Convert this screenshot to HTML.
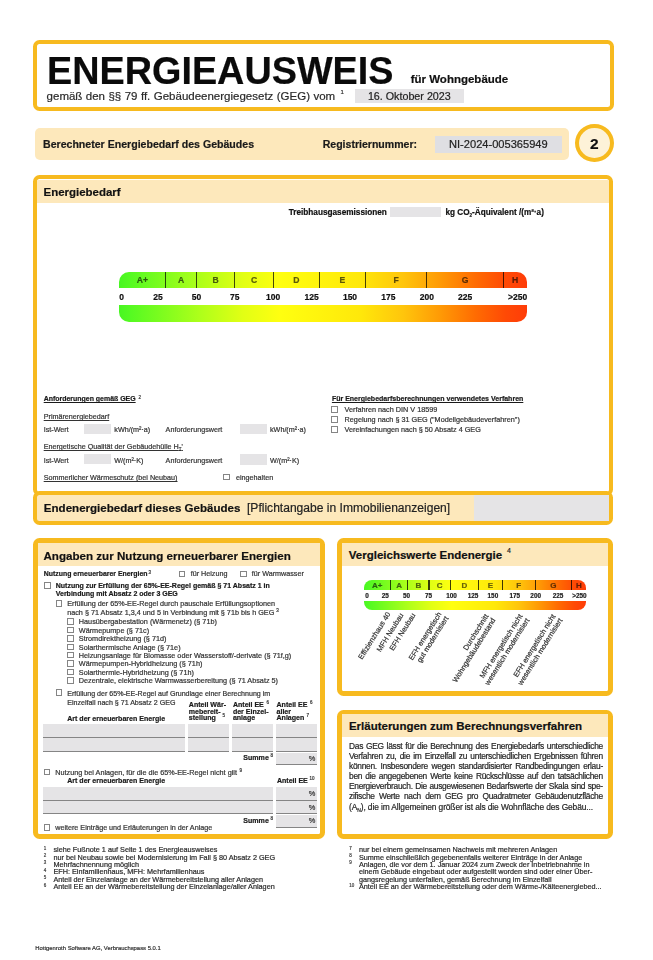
<!DOCTYPE html>
<html><head><meta charset="utf-8"><style>
html,body{margin:0;padding:0;background:#fff;width:653px;height:960px;overflow:hidden}
body{position:relative;font-family:"Liberation Sans",sans-serif}
.t{position:absolute;white-space:pre;line-height:1;-webkit-text-stroke:0.2px currentColor}
.r{position:absolute}
</style></head><body>
<div class="r" style="left:32.70px;top:39.70px;width:580.90px;height:71.50px;box-sizing:border-box;border:4.9px solid #f7ba1f;border-radius:6.5px;background:#fff"></div>
<div class="t" style="left:47.20px;top:51.00px;font-size:39px;font-weight:bold;color:#0a0a0a;transform:scaleX(0.969);transform-origin:0 0">ENERGIEAUSWEIS</div>
<div class="t" style="left:410.70px;top:74.00px;font-size:11.5px;font-weight:bold;color:#111;">für Wohngebäude</div>
<div class="t" style="left:46.60px;top:91.00px;font-size:11.5px;font-weight:normal;color:#2a2a2a;word-spacing:0.25px">gemäß den §§ 79 ff. Gebäudeenergiegesetz (GEG) vom</div>
<div class="t" style="left:340.50px;top:89.00px;font-size:6px;font-weight:normal;color:#333;">1</div>
<div class="r" style="left:354.50px;top:88.60px;width:109.10px;height:14.70px;background:#e5e4e6"></div>
<div class="t" style="left:367.90px;top:91.00px;font-size:10.72px;font-weight:normal;color:#222;">16. Oktober 2023</div>
<div class="r" style="left:35.40px;top:127.60px;width:533.60px;height:32.60px;background:#fde8bb;border-radius:5px"></div>
<div class="t" style="left:43.00px;top:139.00px;font-size:10.59px;font-weight:bold;color:#1a1a1a;">Berechneter Energiebedarf des Gebäudes</div>
<div class="t" style="left:322.70px;top:139.00px;font-size:10.55px;font-weight:bold;color:#1a1a1a;">Registriernummer:</div>
<div class="r" style="left:434.70px;top:136.20px;width:127.20px;height:17.00px;background:#dfdfe3"></div>
<div class="t" style="left:449.00px;top:139.00px;font-size:11.1px;font-weight:normal;color:#222;">NI-2024-005365949</div>
<div class="r" style="left:575.0px;top:124.4px;width:38.6px;height:38.0px;box-sizing:border-box;border:4.8px solid #f7ba1f;border-radius:50%;background:#fdf2d8"></div>
<div class="t" style="left:494.30px;width:200px;text-align:center;top:136.00px;font-size:15.5px;font-weight:bold;color:#111;">2</div>
<div class="r" style="left:32.60px;top:175.30px;width:580.60px;height:320.30px;box-sizing:border-box;border:4.8px solid #f7ba1f;border-radius:6.5px;background:#fff"></div>
<div class="r" style="left:37.30px;top:179.60px;width:571.40px;height:23.20px;background:#fde8bb"></div>
<div class="t" style="left:43.50px;top:187.00px;font-size:11.47px;font-weight:bold;color:#111;">Energiebedarf</div>
<div class="t" style="left:288.70px;top:209.00px;font-size:8.22px;font-weight:bold;color:#111;">Treibhausgasemissionen</div>
<div class="r" style="left:390.40px;top:207.00px;width:51.00px;height:9.90px;background:#e5e4e6"></div>
<div class="t" style="left:445.40px;top:209.00px;font-size:8.2px;font-weight:bold;color:#111;">kg CO<span style="font-size:4.5px;vertical-align:-2px">2</span>-Äquivalent /(m²·a)</div>
<div class="r" style="left:119.20px;top:271.60px;width:407.40px;height:16.70px;background:linear-gradient(90deg,#48f622 0%,#55fa22 2.7%,#aeff1a 19.8%,#e2ff14 30.4%,#ffff10 39.5%,#ffe80a 59.1%,#ffc50c 69.7%,#ff9a05 78.7%,#ff6c02 87.3%,#ff4a05 94.7%,#ff3c08 100%);border-radius:10px 10px 0 0"></div>
<div class="r" style="left:119.20px;top:304.90px;width:407.40px;height:17.10px;background:linear-gradient(90deg,#48f622 0%,#55fa22 2.7%,#aeff1a 19.8%,#e2ff14 30.4%,#ffff10 39.5%,#ffe80a 59.1%,#ffc50c 69.7%,#ff9a05 78.7%,#ff6c02 87.3%,#ff4a05 94.7%,#ff3c08 100%);border-radius:0 0 10px 10px"></div>
<div class="r" style="left:165.18px;top:271.60px;width:1.00px;height:16.70px;background:#484848;mix-blend-mode:multiply"></div>
<div class="r" style="left:195.90px;top:271.60px;width:1.00px;height:16.70px;background:#484848;mix-blend-mode:multiply"></div>
<div class="r" style="left:234.30px;top:271.60px;width:1.00px;height:16.70px;background:#484848;mix-blend-mode:multiply"></div>
<div class="r" style="left:272.70px;top:271.60px;width:1.00px;height:16.70px;background:#484848;mix-blend-mode:multiply"></div>
<div class="r" style="left:318.78px;top:271.60px;width:1.00px;height:16.70px;background:#484848;mix-blend-mode:multiply"></div>
<div class="r" style="left:364.86px;top:271.60px;width:1.00px;height:16.70px;background:#484848;mix-blend-mode:multiply"></div>
<div class="r" style="left:426.30px;top:271.60px;width:1.00px;height:16.70px;background:#484848;mix-blend-mode:multiply"></div>
<div class="r" style="left:503.10px;top:271.60px;width:1.00px;height:16.70px;background:#484848;mix-blend-mode:multiply"></div>
<div class="t" style="left:42.44px;width:200px;text-align:center;top:276.00px;font-size:8.6px;font-weight:bold;color:#5c5c5c;mix-blend-mode:multiply">A+</div>
<div class="t" style="left:81.04px;width:200px;text-align:center;top:276.00px;font-size:8.6px;font-weight:bold;color:#5c5c5c;mix-blend-mode:multiply">A</div>
<div class="t" style="left:115.60px;width:200px;text-align:center;top:276.00px;font-size:8.6px;font-weight:bold;color:#5c5c5c;mix-blend-mode:multiply">B</div>
<div class="t" style="left:154.00px;width:200px;text-align:center;top:276.00px;font-size:8.6px;font-weight:bold;color:#5c5c5c;mix-blend-mode:multiply">C</div>
<div class="t" style="left:196.24px;width:200px;text-align:center;top:276.00px;font-size:8.6px;font-weight:bold;color:#5c5c5c;mix-blend-mode:multiply">D</div>
<div class="t" style="left:242.32px;width:200px;text-align:center;top:276.00px;font-size:8.6px;font-weight:bold;color:#5c5c5c;mix-blend-mode:multiply">E</div>
<div class="t" style="left:296.08px;width:200px;text-align:center;top:276.00px;font-size:8.6px;font-weight:bold;color:#5c5c5c;mix-blend-mode:multiply">F</div>
<div class="t" style="left:365.20px;width:200px;text-align:center;top:276.00px;font-size:8.6px;font-weight:bold;color:#5c5c5c;mix-blend-mode:multiply">G</div>
<div class="t" style="left:415.10px;width:200px;text-align:center;top:276.00px;font-size:8.6px;font-weight:bold;color:#5c5c5c;mix-blend-mode:multiply">H</div>
<div class="t" style="left:119.30px;top:293.00px;font-size:8.5px;font-weight:bold;color:#111;">0</div>
<div class="t" style="left:58.00px;width:200px;text-align:center;top:293.00px;font-size:8.5px;font-weight:bold;color:#111;">25</div>
<div class="t" style="left:96.40px;width:200px;text-align:center;top:293.00px;font-size:8.5px;font-weight:bold;color:#111;">50</div>
<div class="t" style="left:134.80px;width:200px;text-align:center;top:293.00px;font-size:8.5px;font-weight:bold;color:#111;">75</div>
<div class="t" style="left:173.20px;width:200px;text-align:center;top:293.00px;font-size:8.5px;font-weight:bold;color:#111;">100</div>
<div class="t" style="left:211.60px;width:200px;text-align:center;top:293.00px;font-size:8.5px;font-weight:bold;color:#111;">125</div>
<div class="t" style="left:250.00px;width:200px;text-align:center;top:293.00px;font-size:8.5px;font-weight:bold;color:#111;">150</div>
<div class="t" style="left:288.40px;width:200px;text-align:center;top:293.00px;font-size:8.5px;font-weight:bold;color:#111;">175</div>
<div class="t" style="left:326.80px;width:200px;text-align:center;top:293.00px;font-size:8.5px;font-weight:bold;color:#111;">200</div>
<div class="t" style="left:365.20px;width:200px;text-align:center;top:293.00px;font-size:8.5px;font-weight:bold;color:#111;">225</div>
<div class="t" style="right:125.80px;top:293.00px;font-size:8.5px;font-weight:bold;color:#111;">&gt;250</div>
<div class="t" style="left:43.70px;top:396.00px;font-size:6.96px;font-weight:bold;color:#1a1a1a;text-decoration:underline">Anforderungen gemäß GEG</div>
<div class="t" style="left:138.50px;top:396.00px;font-size:4.5px;font-weight:normal;color:#333;">2</div>
<div class="t" style="left:43.70px;top:413.00px;font-size:7.2px;font-weight:normal;color:#333;text-decoration:underline">Primärenergiebedarf</div>
<div class="t" style="left:43.70px;top:426.00px;font-size:7.2px;font-weight:normal;color:#333;">Ist-Wert</div>
<div class="r" style="left:84.00px;top:423.60px;width:27.10px;height:10.40px;background:#e5e4e6"></div>
<div class="t" style="left:114.30px;top:426.00px;font-size:7.2px;font-weight:normal;color:#333;">kWh/(m²·a)</div>
<div class="t" style="left:165.60px;top:426.00px;font-size:7.2px;font-weight:normal;color:#333;">Anforderungswert</div>
<div class="r" style="left:239.80px;top:423.80px;width:27.40px;height:10.60px;background:#e5e4e6"></div>
<div class="t" style="left:270.00px;top:426.00px;font-size:7.2px;font-weight:normal;color:#333;">kWh/(m²·a)</div>
<div class="t" style="left:43.70px;top:443.00px;font-size:7.2px;font-weight:normal;color:#333;text-decoration:underline">Energetische Qualität der Gebäudehülle H<span style="font-size:4.5px;vertical-align:-1.5px">T</span>'</div>
<div class="t" style="left:43.70px;top:457.00px;font-size:7.2px;font-weight:normal;color:#333;">Ist-Wert</div>
<div class="r" style="left:84.00px;top:454.40px;width:27.10px;height:9.90px;background:#e5e4e6"></div>
<div class="t" style="left:114.30px;top:457.00px;font-size:7.2px;font-weight:normal;color:#333;">W/(m²·K)</div>
<div class="t" style="left:165.60px;top:457.00px;font-size:7.2px;font-weight:normal;color:#333;">Anforderungswert</div>
<div class="r" style="left:239.80px;top:454.30px;width:27.40px;height:10.30px;background:#e5e4e6"></div>
<div class="t" style="left:270.00px;top:457.00px;font-size:7.2px;font-weight:normal;color:#333;">W/(m²·K)</div>
<div class="t" style="left:43.70px;top:474.00px;font-size:7.2px;font-weight:normal;color:#333;text-decoration:underline">Sommerlicher Wärmeschutz (bei Neubau)</div>
<div class="r" style="left:223.00px;top:473.50px;width:6.50px;height:6.50px;box-sizing:border-box;border:0.9px solid #858585;background:#fff"></div>
<div class="t" style="left:236.00px;top:474.00px;font-size:7.2px;font-weight:normal;color:#333;">eingehalten</div>
<div class="t" style="left:331.90px;top:395.00px;font-size:7.03px;font-weight:bold;color:#1a1a1a;text-decoration:underline">Für Energiebedarfsberechnungen verwendetes Verfahren</div>
<div class="r" style="left:331.40px;top:406.00px;width:6.50px;height:6.50px;box-sizing:border-box;border:0.9px solid #858585;background:#fff"></div>
<div class="t" style="left:344.60px;top:406.00px;font-size:7.25px;font-weight:normal;color:#333;">Verfahren nach DIN V 18599</div>
<div class="r" style="left:331.40px;top:416.30px;width:6.50px;height:6.50px;box-sizing:border-box;border:0.9px solid #858585;background:#fff"></div>
<div class="t" style="left:344.60px;top:416.00px;font-size:7.25px;font-weight:normal;color:#333;">Regelung nach § 31 GEG ("Modellgebäudeverfahren")</div>
<div class="r" style="left:331.40px;top:426.30px;width:6.50px;height:6.50px;box-sizing:border-box;border:0.9px solid #858585;background:#fff"></div>
<div class="t" style="left:344.60px;top:426.00px;font-size:7.25px;font-weight:normal;color:#333;">Vereinfachungen nach § 50 Absatz 4 GEG</div>
<div class="r" style="left:32.60px;top:490.80px;width:580.60px;height:34.50px;box-sizing:border-box;border:4.8px solid #f7ba1f;border-radius:6.5px;background:#fde8bb"></div>
<div class="r" style="left:473.80px;top:495.40px;width:134.80px;height:25.20px;background:#e5e4e6"></div>
<div class="t" style="left:43.80px;top:503.00px;font-size:11.57px;font-weight:bold;color:#111;">Endenergiebedarf dieses Gebäudes</div>
<div class="t" style="left:247.00px;top:502.00px;font-size:12.07px;font-weight:normal;color:#222;">[Pflichtangabe in Immobilienanzeigen]</div>
<div class="r" style="left:32.80px;top:538.00px;width:292.60px;height:301.20px;box-sizing:border-box;border:5px solid #f7ba1f;border-radius:6.5px;background:#fff"></div>
<div class="r" style="left:37.60px;top:542.60px;width:282.80px;height:23.40px;background:#fde8bb"></div>
<div class="t" style="left:43.50px;top:550.00px;font-size:11.6px;font-weight:bold;color:#111;">Angaben zur Nutzung erneuerbarer Energien</div>
<div class="t" style="left:43.70px;top:571.00px;font-size:6.93px;font-weight:bold;color:#1a1a1a;">Nutzung erneuerbarer Energien</div>
<div class="t" style="left:148.50px;top:571.00px;font-size:4.5px;font-weight:normal;color:#333;">3</div>
<div class="r" style="left:178.90px;top:570.50px;width:6.50px;height:6.50px;box-sizing:border-box;border:0.9px solid #858585;background:#fff"></div>
<div class="t" style="left:190.70px;top:570.00px;font-size:7.2px;font-weight:normal;color:#333;">für Heizung</div>
<div class="r" style="left:240.00px;top:570.50px;width:6.50px;height:6.50px;box-sizing:border-box;border:0.9px solid #858585;background:#fff"></div>
<div class="t" style="left:251.80px;top:570.00px;font-size:7.2px;font-weight:normal;color:#333;">für Warmwasser</div>
<div class="r" style="left:44.20px;top:582.20px;width:6.50px;height:6.50px;box-sizing:border-box;border:0.9px solid #858585;background:#fff"></div>
<div class="t" style="left:55.70px;top:582.00px;font-size:7.02px;font-weight:bold;color:#1a1a1a;">Nutzung zur Erfüllung der 65%-EE-Regel gemäß § 71 Absatz 1 in</div>
<div class="t" style="left:55.70px;top:590.00px;font-size:7.02px;font-weight:bold;color:#1a1a1a;">Verbindung mit Absatz 2 oder 3 GEG</div>
<div class="r" style="left:55.50px;top:600.40px;width:6.50px;height:6.50px;box-sizing:border-box;border:0.9px solid #858585;background:#fff"></div>
<div class="t" style="left:67.20px;top:600.00px;font-size:7.24px;font-weight:normal;color:#333;">Erfüllung der 65%-EE-Regel durch pauschale Erfüllungsoptionen</div>
<div class="t" style="left:67.20px;top:609.00px;font-size:7.24px;font-weight:normal;color:#333;">nach § 71 Absatz 1,3,4 und 5 in Verbindung mit § 71b bis h GEG</div>
<div class="t" style="left:276.30px;top:609.00px;font-size:4.5px;font-weight:normal;color:#333;">3</div>
<div class="r" style="left:67.20px;top:618.20px;width:6.50px;height:6.50px;box-sizing:border-box;border:0.9px solid #858585;background:#fff"></div>
<div class="t" style="left:78.80px;top:618.00px;font-size:7.28px;font-weight:normal;color:#333;">Hausübergabestation (Wärmenetz) (§ 71b)</div>
<div class="r" style="left:67.20px;top:626.64px;width:6.50px;height:6.50px;box-sizing:border-box;border:0.9px solid #858585;background:#fff"></div>
<div class="t" style="left:78.80px;top:627.00px;font-size:7.28px;font-weight:normal;color:#333;">Wärmepumpe (§ 71c)</div>
<div class="r" style="left:67.20px;top:635.08px;width:6.50px;height:6.50px;box-sizing:border-box;border:0.9px solid #858585;background:#fff"></div>
<div class="t" style="left:78.80px;top:635.00px;font-size:7.28px;font-weight:normal;color:#333;">Stromdirektheizung (§ 71d)</div>
<div class="r" style="left:67.20px;top:643.52px;width:6.50px;height:6.50px;box-sizing:border-box;border:0.9px solid #858585;background:#fff"></div>
<div class="t" style="left:78.80px;top:644.00px;font-size:7.28px;font-weight:normal;color:#333;">Solarthermische Anlage (§ 71e)</div>
<div class="r" style="left:67.20px;top:651.96px;width:6.50px;height:6.50px;box-sizing:border-box;border:0.9px solid #858585;background:#fff"></div>
<div class="t" style="left:78.80px;top:652.00px;font-size:7.28px;font-weight:normal;color:#333;">Heizungsanlage für Biomasse oder Wasserstoff/-derivate (§ 71f,g)</div>
<div class="r" style="left:67.20px;top:660.40px;width:6.50px;height:6.50px;box-sizing:border-box;border:0.9px solid #858585;background:#fff"></div>
<div class="t" style="left:78.80px;top:660.00px;font-size:7.28px;font-weight:normal;color:#333;">Wärmepumpen-Hybridheizung (§ 71h)</div>
<div class="r" style="left:67.20px;top:668.84px;width:6.50px;height:6.50px;box-sizing:border-box;border:0.9px solid #858585;background:#fff"></div>
<div class="t" style="left:78.80px;top:669.00px;font-size:7.28px;font-weight:normal;color:#333;">Solarthermie-Hybridheizung (§ 71h)</div>
<div class="r" style="left:67.20px;top:677.28px;width:6.50px;height:6.50px;box-sizing:border-box;border:0.9px solid #858585;background:#fff"></div>
<div class="t" style="left:78.80px;top:677.00px;font-size:7.28px;font-weight:normal;color:#333;">Dezentrale, elektrische Warmwasserbereitung (§ 71 Absatz 5)</div>
<div class="r" style="left:55.50px;top:689.30px;width:6.50px;height:6.50px;box-sizing:border-box;border:0.9px solid #858585;background:#fff"></div>
<div class="t" style="left:67.20px;top:691.00px;font-size:7.08px;font-weight:normal;color:#333;">Erfüllung der 65%-EE-Regel auf Grundlage einer Berechnung im</div>
<div class="t" style="left:67.20px;top:700.00px;font-size:7.08px;font-weight:normal;color:#333;">Einzelfall nach § 71 Absatz 2 GEG</div>
<div class="t" style="left:67.20px;top:715.00px;font-size:7.05px;font-weight:bold;color:#1a1a1a;">Art der erneuerbaren Energie</div>
<div class="t" style="left:188.80px;top:701.00px;font-size:7.05px;font-weight:bold;color:#1a1a1a;">Anteil Wär-</div>
<div class="t" style="left:188.80px;top:708.00px;font-size:7.05px;font-weight:bold;color:#1a1a1a;">mebereit-</div>
<div class="t" style="left:188.80px;top:714.00px;font-size:7.05px;font-weight:bold;color:#1a1a1a;">stellung</div>
<div class="t" style="left:222.50px;top:714.00px;font-size:4.5px;font-weight:normal;color:#333;">5</div>
<div class="t" style="left:232.90px;top:701.00px;font-size:7.05px;font-weight:bold;color:#1a1a1a;">Anteil EE</div>
<div class="t" style="left:266.50px;top:701.00px;font-size:4.5px;font-weight:normal;color:#333;">6</div>
<div class="t" style="left:232.90px;top:708.00px;font-size:7.05px;font-weight:bold;color:#1a1a1a;">der Einzel-</div>
<div class="t" style="left:232.90px;top:714.00px;font-size:7.05px;font-weight:bold;color:#1a1a1a;">anlage</div>
<div class="t" style="left:276.50px;top:701.00px;font-size:7.05px;font-weight:bold;color:#1a1a1a;">Anteil EE</div>
<div class="t" style="left:310.00px;top:701.00px;font-size:4.5px;font-weight:normal;color:#333;">6</div>
<div class="t" style="left:276.50px;top:708.00px;font-size:7.05px;font-weight:bold;color:#1a1a1a;">aller</div>
<div class="t" style="left:276.50px;top:714.00px;font-size:7.05px;font-weight:bold;color:#1a1a1a;">Anlagen</div>
<div class="t" style="left:306.50px;top:714.00px;font-size:4.5px;font-weight:normal;color:#333;">7</div>
<div class="r" style="left:43.00px;top:724.40px;width:142.30px;height:13.80px;background:#e5e4e6;border-bottom:1px solid #858585;box-sizing:border-box"></div>
<div class="r" style="left:188.30px;top:724.40px;width:40.70px;height:13.80px;background:#e5e4e6;border-bottom:1px solid #858585;box-sizing:border-box"></div>
<div class="r" style="left:232.40px;top:724.40px;width:40.90px;height:13.80px;background:#e5e4e6;border-bottom:1px solid #858585;box-sizing:border-box"></div>
<div class="r" style="left:276.10px;top:724.40px;width:40.90px;height:13.80px;background:#e5e4e6;border-bottom:1px solid #858585;box-sizing:border-box"></div>
<div class="r" style="left:43.00px;top:738.40px;width:142.30px;height:13.40px;background:#e5e4e6;border-bottom:1px solid #858585;box-sizing:border-box"></div>
<div class="r" style="left:188.30px;top:738.40px;width:40.70px;height:13.40px;background:#e5e4e6;border-bottom:1px solid #858585;box-sizing:border-box"></div>
<div class="r" style="left:232.40px;top:738.40px;width:40.90px;height:13.40px;background:#e5e4e6;border-bottom:1px solid #858585;box-sizing:border-box"></div>
<div class="r" style="left:276.10px;top:738.40px;width:40.90px;height:13.40px;background:#e5e4e6;border-bottom:1px solid #858585;box-sizing:border-box"></div>
<div class="r" style="left:276.10px;top:753.20px;width:40.90px;height:12.30px;background:#e5e4e6;border-bottom:1px solid #858585;box-sizing:border-box"></div>
<div class="t" style="right:384.20px;top:754.00px;font-size:7.05px;font-weight:bold;color:#1a1a1a;">Summe</div>
<div class="t" style="left:270.60px;top:754.00px;font-size:4.5px;font-weight:normal;color:#333;">8</div>
<div class="t" style="right:337.60px;top:755.00px;font-size:7.4px;font-weight:normal;color:#333;">%</div>
<div class="r" style="left:43.70px;top:768.60px;width:6.50px;height:6.50px;box-sizing:border-box;border:0.9px solid #858585;background:#fff"></div>
<div class="t" style="left:55.20px;top:769.00px;font-size:7.28px;font-weight:normal;color:#333;">Nutzung bei Anlagen, für die die 65%-EE-Regel nicht gilt</div>
<div class="t" style="left:239.60px;top:769.00px;font-size:4.5px;font-weight:normal;color:#333;">9</div>
<div class="t" style="left:67.20px;top:777.00px;font-size:7.05px;font-weight:bold;color:#1a1a1a;">Art der erneuerbaren Energie</div>
<div class="t" style="left:276.90px;top:777.00px;font-size:7.05px;font-weight:bold;color:#1a1a1a;">Anteil EE</div>
<div class="t" style="left:309.50px;top:777.00px;font-size:4.5px;font-weight:normal;color:#333;">10</div>
<div class="r" style="left:43.00px;top:786.80px;width:230.40px;height:13.80px;background:#e5e4e6;border-bottom:1px solid #858585;box-sizing:border-box"></div>
<div class="r" style="left:276.40px;top:786.80px;width:40.60px;height:13.80px;background:#e5e4e6;border-bottom:1px solid #858585;box-sizing:border-box"></div>
<div class="t" style="right:337.60px;top:790.00px;font-size:7.4px;font-weight:normal;color:#333;">%</div>
<div class="r" style="left:43.00px;top:800.80px;width:230.40px;height:13.20px;background:#e5e4e6;border-bottom:1px solid #858585;box-sizing:border-box"></div>
<div class="r" style="left:276.40px;top:800.80px;width:40.60px;height:13.20px;background:#e5e4e6;border-bottom:1px solid #858585;box-sizing:border-box"></div>
<div class="t" style="right:337.60px;top:804.00px;font-size:7.4px;font-weight:normal;color:#333;">%</div>
<div class="r" style="left:276.40px;top:815.30px;width:40.60px;height:12.50px;background:#e5e4e6;border-bottom:1px solid #858585;box-sizing:border-box"></div>
<div class="t" style="right:337.60px;top:817.00px;font-size:7.4px;font-weight:normal;color:#333;">%</div>
<div class="t" style="right:384.20px;top:817.00px;font-size:7.05px;font-weight:bold;color:#1a1a1a;">Summe</div>
<div class="t" style="left:270.60px;top:817.00px;font-size:4.5px;font-weight:normal;color:#333;">8</div>
<div class="r" style="left:43.70px;top:824.40px;width:6.50px;height:6.50px;box-sizing:border-box;border:0.9px solid #858585;background:#fff"></div>
<div class="t" style="left:55.20px;top:824.00px;font-size:7.2px;font-weight:normal;color:#333;">weitere Einträge und Erläuterungen in der Anlage</div>
<div class="r" style="left:337.40px;top:538.30px;width:275.60px;height:157.30px;box-sizing:border-box;border:5px solid #f7ba1f;border-radius:6.5px;background:#fff"></div>
<div class="r" style="left:342.20px;top:543.10px;width:266.00px;height:22.90px;background:#fde8bb"></div>
<div class="t" style="left:348.80px;top:550.00px;font-size:11.5px;font-weight:bold;color:#111;">Vergleichswerte Endenergie</div>
<div class="t" style="left:507.00px;top:547.00px;font-size:7px;font-weight:normal;color:#222;">4</div>
<div class="r" style="left:337.40px;top:709.60px;width:275.60px;height:129.60px;box-sizing:border-box;border:5px solid #f7ba1f;border-radius:6.5px;background:#fff"></div>
<div class="r" style="left:342.20px;top:714.30px;width:266.00px;height:22.70px;background:#fde8bb"></div>
<div class="t" style="left:348.90px;top:721.00px;font-size:11.5px;font-weight:bold;color:#111;">Erläuterungen zum Berechnungsverfahren</div>
<div class="r" style="left:364.20px;top:579.80px;width:222.30px;height:10.00px;background:linear-gradient(90deg,#48f622 0%,#55fa22 2.7%,#aeff1a 19.8%,#e2ff14 30.4%,#ffff10 39.5%,#ffe80a 59.1%,#ffc50c 69.7%,#ff9a05 78.7%,#ff6c02 87.3%,#ff4a05 94.7%,#ff3c08 100%);border-radius:8px 8px 0 0"></div>
<div class="r" style="left:364.20px;top:601.00px;width:222.30px;height:8.80px;background:linear-gradient(90deg,#48f622 0%,#55fa22 2.7%,#aeff1a 19.8%,#e2ff14 30.4%,#ffff10 39.5%,#ffe80a 59.1%,#ffc50c 69.7%,#ff9a05 78.7%,#ff6c02 87.3%,#ff4a05 94.7%,#ff3c08 100%);border-radius:0 0 8px 8px"></div>
<div class="r" style="left:389.60px;top:579.80px;width:1.40px;height:10.00px;background:#3c3c3c;mix-blend-mode:multiply"></div>
<div class="r" style="left:407.10px;top:579.80px;width:1.40px;height:10.00px;background:#3c3c3c;mix-blend-mode:multiply"></div>
<div class="r" style="left:428.20px;top:579.80px;width:1.40px;height:10.00px;background:#3c3c3c;mix-blend-mode:multiply"></div>
<div class="r" style="left:449.90px;top:579.80px;width:1.40px;height:10.00px;background:#3c3c3c;mix-blend-mode:multiply"></div>
<div class="r" style="left:477.70px;top:579.80px;width:1.40px;height:10.00px;background:#3c3c3c;mix-blend-mode:multiply"></div>
<div class="r" style="left:501.60px;top:579.80px;width:1.40px;height:10.00px;background:#3c3c3c;mix-blend-mode:multiply"></div>
<div class="r" style="left:534.60px;top:579.80px;width:1.40px;height:10.00px;background:#3c3c3c;mix-blend-mode:multiply"></div>
<div class="r" style="left:570.70px;top:579.80px;width:1.40px;height:10.00px;background:#3c3c3c;mix-blend-mode:multiply"></div>
<div class="t" style="left:277.25px;width:200px;text-align:center;top:582.00px;font-size:8px;font-weight:bold;color:#666;mix-blend-mode:multiply">A+</div>
<div class="t" style="left:299.05px;width:200px;text-align:center;top:582.00px;font-size:8px;font-weight:bold;color:#666;mix-blend-mode:multiply">A</div>
<div class="t" style="left:318.35px;width:200px;text-align:center;top:582.00px;font-size:8px;font-weight:bold;color:#666;mix-blend-mode:multiply">B</div>
<div class="t" style="left:339.75px;width:200px;text-align:center;top:582.00px;font-size:8px;font-weight:bold;color:#666;mix-blend-mode:multiply">C</div>
<div class="t" style="left:364.50px;width:200px;text-align:center;top:582.00px;font-size:8px;font-weight:bold;color:#666;mix-blend-mode:multiply">D</div>
<div class="t" style="left:390.35px;width:200px;text-align:center;top:582.00px;font-size:8px;font-weight:bold;color:#666;mix-blend-mode:multiply">E</div>
<div class="t" style="left:418.80px;width:200px;text-align:center;top:582.00px;font-size:8px;font-weight:bold;color:#666;mix-blend-mode:multiply">F</div>
<div class="t" style="left:453.35px;width:200px;text-align:center;top:582.00px;font-size:8px;font-weight:bold;color:#666;mix-blend-mode:multiply">G</div>
<div class="t" style="left:478.95px;width:200px;text-align:center;top:582.00px;font-size:8px;font-weight:bold;color:#666;mix-blend-mode:multiply">H</div>
<div class="t" style="left:267.00px;width:200px;text-align:center;top:593.00px;font-size:6.4px;font-weight:bold;color:#222;">0</div>
<div class="t" style="left:285.30px;width:200px;text-align:center;top:593.00px;font-size:6.4px;font-weight:bold;color:#222;">25</div>
<div class="t" style="left:306.50px;width:200px;text-align:center;top:593.00px;font-size:6.4px;font-weight:bold;color:#222;">50</div>
<div class="t" style="left:328.50px;width:200px;text-align:center;top:593.00px;font-size:6.4px;font-weight:bold;color:#222;">75</div>
<div class="t" style="left:351.50px;width:200px;text-align:center;top:593.00px;font-size:6.4px;font-weight:bold;color:#222;">100</div>
<div class="t" style="left:373.00px;width:200px;text-align:center;top:593.00px;font-size:6.4px;font-weight:bold;color:#222;">125</div>
<div class="t" style="left:392.90px;width:200px;text-align:center;top:593.00px;font-size:6.4px;font-weight:bold;color:#222;">150</div>
<div class="t" style="left:414.80px;width:200px;text-align:center;top:593.00px;font-size:6.4px;font-weight:bold;color:#222;">175</div>
<div class="t" style="left:435.70px;width:200px;text-align:center;top:593.00px;font-size:6.4px;font-weight:bold;color:#222;">200</div>
<div class="t" style="left:458.00px;width:200px;text-align:center;top:593.00px;font-size:6.4px;font-weight:bold;color:#222;">225</div>
<div class="t" style="right:66.40px;top:593.00px;font-size:6.4px;font-weight:bold;color:#222;">&gt;250</div>
<div class="t" style="left:90.80px;top:608.24px;width:300px;text-align:right;font-size:7.4px;color:#333;transform-origin:100% 84.65%;transform:rotate(-58deg)">Effizienzhaus 40</div>
<div class="t" style="left:104.20px;top:608.74px;width:300px;text-align:right;font-size:7.4px;color:#333;transform-origin:100% 84.65%;transform:rotate(-58deg)">MFH Neubau</div>
<div class="t" style="left:116.30px;top:608.74px;width:300px;text-align:right;font-size:7.4px;color:#333;transform-origin:100% 84.65%;transform:rotate(-58deg)">EFH Neubau</div>
<div class="t" style="left:141.80px;top:608.24px;width:300px;text-align:right;font-size:7.4px;color:#333;transform-origin:100% 84.65%;transform:rotate(-58deg)">EFH energetisch</div>
<div class="t" style="left:148.50px;top:612.42px;width:300px;text-align:right;font-size:7.4px;color:#333;transform-origin:100% 84.65%;transform:rotate(-58deg)">gut modernisiert</div>
<div class="t" style="left:189.00px;top:609.74px;width:300px;text-align:right;font-size:7.4px;color:#333;transform-origin:100% 84.65%;transform:rotate(-58deg)">Durchschnitt</div>
<div class="t" style="left:195.70px;top:613.92px;width:300px;text-align:right;font-size:7.4px;color:#333;transform-origin:100% 84.65%;transform:rotate(-58deg)">Wohngebäudebestand</div>
<div class="t" style="left:223.00px;top:609.74px;width:300px;text-align:right;font-size:7.4px;color:#333;transform-origin:100% 84.65%;transform:rotate(-58deg)">MFH energetisch nicht</div>
<div class="t" style="left:229.70px;top:613.92px;width:300px;text-align:right;font-size:7.4px;color:#333;transform-origin:100% 84.65%;transform:rotate(-58deg)">wesentlich modernisiert</div>
<div class="t" style="left:256.00px;top:609.74px;width:300px;text-align:right;font-size:7.4px;color:#333;transform-origin:100% 84.65%;transform:rotate(-58deg)">EFH energetisch nicht</div>
<div class="t" style="left:262.70px;top:613.92px;width:300px;text-align:right;font-size:7.4px;color:#333;transform-origin:100% 84.65%;transform:rotate(-58deg)">wesentlich modernisiert</div>
<div class="t" style="left:349px;top:742.00px;width:253.9px;white-space:normal;text-align:justify;text-align-last:justify;font-size:8.4px;letter-spacing:-0.28px;color:#262626">Das GEG lässt für die Berechnung des Energiebedarfs unterschiedliche</div>
<div class="t" style="left:349px;top:752.00px;width:253.9px;white-space:normal;text-align:justify;text-align-last:justify;font-size:8.4px;letter-spacing:-0.28px;color:#262626">Verfahren zu, die im Einzelfall zu unterschiedlichen Ergebnissen führen</div>
<div class="t" style="left:349px;top:762.00px;width:253.9px;white-space:normal;text-align:justify;text-align-last:justify;font-size:8.4px;letter-spacing:-0.28px;color:#262626">können. Insbesondere wegen standardisierter Randbedingungen erlau-</div>
<div class="t" style="left:349px;top:772.00px;width:253.9px;white-space:normal;text-align:justify;text-align-last:justify;font-size:8.4px;letter-spacing:-0.28px;color:#262626">ben die angegebenen Werte keine Rückschlüsse auf den tatsächlichen</div>
<div class="t" style="left:349px;top:782.00px;width:253.9px;white-space:normal;text-align:justify;text-align-last:justify;font-size:8.4px;letter-spacing:-0.28px;color:#262626">Energieverbrauch. Die ausgewiesenen Bedarfswerte der Skala sind spe-</div>
<div class="t" style="left:349px;top:792.00px;width:253.9px;white-space:normal;text-align:justify;text-align-last:justify;font-size:8.4px;letter-spacing:-0.28px;color:#262626">zifische Werte nach dem GEG pro Quadratmeter Gebäudenutzfläche</div>
<div class="t" style="left:349.00px;top:803.00px;font-size:8.4px;font-weight:normal;color:#262626;letter-spacing:-0.1px">(A<span style="font-size:5px;vertical-align:-1.5px">N</span>), die im Allgemeinen größer ist als die Wohnfläche des Gebäu...</div>
<div class="t" style="left:43.80px;top:847.00px;font-size:4.5px;font-weight:normal;color:#444;">1</div>
<div class="t" style="left:53.40px;top:846.00px;font-size:7.27px;font-weight:normal;color:#2a2a2a;">siehe Fußnote 1 auf Seite 1 des Energieausweises</div>
<div class="t" style="left:43.80px;top:854.00px;font-size:4.5px;font-weight:normal;color:#444;">2</div>
<div class="t" style="left:53.40px;top:854.00px;font-size:7.27px;font-weight:normal;color:#2a2a2a;">nur bei Neubau sowie bei Modernisierung im Fall § 80 Absatz 2 GEG</div>
<div class="t" style="left:43.80px;top:861.00px;font-size:4.5px;font-weight:normal;color:#444;">3</div>
<div class="t" style="left:53.40px;top:861.00px;font-size:7.27px;font-weight:normal;color:#2a2a2a;">Mehrfachnennung möglich</div>
<div class="t" style="left:43.80px;top:869.00px;font-size:4.5px;font-weight:normal;color:#444;">4</div>
<div class="t" style="left:53.40px;top:868.00px;font-size:7.27px;font-weight:normal;color:#2a2a2a;">EFH: Einfamilienhaus, MFH: Mehrfamilienhaus</div>
<div class="t" style="left:43.80px;top:876.00px;font-size:4.5px;font-weight:normal;color:#444;">5</div>
<div class="t" style="left:53.40px;top:876.00px;font-size:7.27px;font-weight:normal;color:#2a2a2a;">Anteil der Einzelanlage an der Wärmebereitstellung aller Anlagen</div>
<div class="t" style="left:43.80px;top:884.00px;font-size:4.5px;font-weight:normal;color:#444;">6</div>
<div class="t" style="left:53.40px;top:883.00px;font-size:7.27px;font-weight:normal;color:#2a2a2a;">Anteil EE an der Wärmebereitstellung der Einzelanlage/aller Anlagen</div>
<div class="t" style="left:349.30px;top:847.00px;font-size:4.5px;font-weight:normal;color:#444;">7</div>
<div class="t" style="left:358.90px;top:846.00px;font-size:7.27px;font-weight:normal;color:#2a2a2a;">nur bei einem gemeinsamen Nachweis mit mehreren Anlagen</div>
<div class="t" style="left:349.30px;top:854.00px;font-size:4.5px;font-weight:normal;color:#444;">8</div>
<div class="t" style="left:358.90px;top:854.00px;font-size:7.27px;font-weight:normal;color:#2a2a2a;">Summe einschließlich gegebenenfalls weiterer Einträge in der Anlage</div>
<div class="t" style="left:349.30px;top:861.00px;font-size:4.5px;font-weight:normal;color:#444;">9</div>
<div class="t" style="left:358.90px;top:861.00px;font-size:7.27px;font-weight:normal;color:#2a2a2a;">Anlagen, die vor dem 1. Januar 2024 zum Zweck der Inbetriebnahme in</div>
<div class="t" style="left:358.90px;top:868.00px;font-size:7.27px;font-weight:normal;color:#2a2a2a;">einem Gebäude eingebaut oder aufgestellt worden sind oder einer Über-</div>
<div class="t" style="left:358.90px;top:876.00px;font-size:7.27px;font-weight:normal;color:#2a2a2a;">gangsregelung unterfallen, gemäß Berechnung im Einzelfall</div>
<div class="t" style="left:349.30px;top:884.00px;font-size:4.5px;font-weight:normal;color:#444;">10</div>
<div class="t" style="left:358.90px;top:883.00px;font-size:7.27px;font-weight:normal;color:#2a2a2a;">Anteil EE an der Wärmebereitstellung oder dem Wärme-/Kälteenergiebed...</div>
<div class="t" style="left:35.30px;top:946.00px;font-size:5.89px;font-weight:normal;color:#333;">Hottgenroth Software AG, Verbrauchspass 5.0.1</div>
</body></html>
